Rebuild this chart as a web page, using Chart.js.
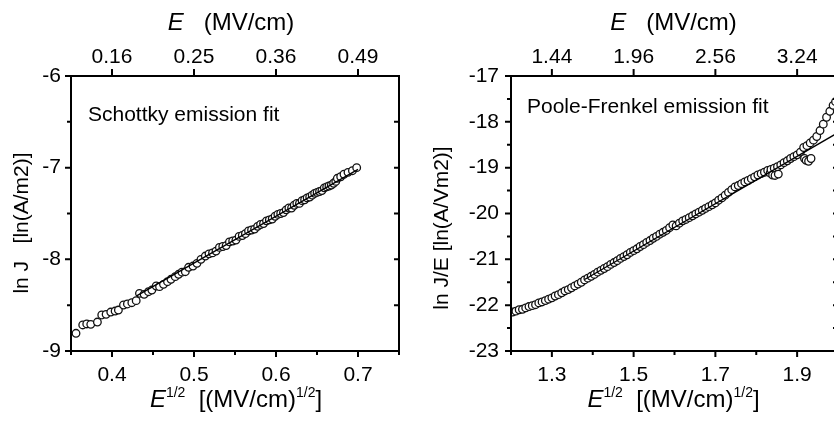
<!DOCTYPE html>
<html><head><meta charset="utf-8">
<script src="https://cdn.jsdelivr.net/npm/chart.js@4/dist/chart.umd.min.js"></script>
<style>
html,body{margin:0;padding:0;background:#fff;overflow:hidden;width:834px;height:425px;}
#c1{position:absolute;left:0;top:0;}
#c2{position:absolute;left:420px;top:0;}
</style></head><body>
<canvas id="c1" width="420" height="425"></canvas>
<canvas id="c2" width="430" height="425"></canvas>
<script>
// ---------- data: Schottky panel ----------
const leftX = [0.3561,0.3643,0.3692,0.3741,0.3822,0.3875,0.3928,0.3985,0.4038,0.4078,0.4140,0.4188,0.4242,0.4295,0.4335,0.4392,0.4445,0.4486,0.4539,0.4580,0.4628,0.4677,0.4719,0.4771,0.4812,0.4853,0.4894,0.4934,0.4988,0.5036,0.5085,0.5138,
0.5183,0.5226,0.5268,0.5310,0.5351,0.5392,0.5432,0.5472,0.5511,0.5550,0.5589,0.5627,0.5665,0.5702,0.5739,0.5776,0.5812,0.5848,0.5884,0.5919,0.5954,0.5989,0.6023,0.6057,0.6091,0.6124,0.6157,0.6190,0.6222,0.6254,0.6286,0.6318,0.6349,0.6380,0.6411,0.6441,0.6471,0.6501,0.6531,0.6560,0.6589,0.6618,0.6646,0.6674,0.6702,0.6729,
0.6748,0.6789,0.6829,0.6878,0.6932,0.6984];
const leftY = [-8.807,-8.716,-8.705,-8.709,-8.684,-8.607,-8.600,-8.575,-8.564,-8.553,-8.498,-8.487,-8.473,-8.451,-8.371,-8.382,-8.353,-8.335,-8.291,-8.298,-8.273,-8.244,-8.218,-8.189,-8.163,-8.140,-8.135,-8.087,-8.073,-8.044,-8.000,-7.964,
-7.94,-7.93,-7.91,-7.87,-7.86,-7.85,-7.81,-7.80,-7.79,-7.75,-7.74,-7.72,-7.69,-7.68,-7.67,-7.64,-7.62,-7.61,-7.58,-7.57,-7.56,-7.53,-7.51,-7.50,-7.49,-7.46,-7.44,-7.44,-7.41,-7.39,-7.39,-7.36,-7.35,-7.33,-7.32,-7.30,-7.28,-7.27,-7.26,-7.25,-7.22,-7.21,-7.20,-7.19,-7.17,-7.15,
-7.116,-7.099,-7.072,-7.051,-7.033,-7.000];
const leftFitX = [0.43, 0.70];
const leftFitY = [-8.399, -7.019];
const leftXTicks = [0.4, 0.5, 0.6, 0.7];
const leftXLabels = ['0.4', '0.5', '0.6', '0.7'];
const leftXMinor = [0.35, 0.45, 0.55, 0.65, 0.75];
const leftTopLabels = ['0.16', '0.25', '0.36', '0.49'];
const leftYTicks = [-9, -8, -7, -6];
const leftYLabels = ['-9', '-8', '-7', '-6'];
const leftYMinor = [-8.5, -7.5, -6.5];

// ---------- data: Poole-Frenkel panel ----------
const rightX = [1.204,1.212,1.220,1.228,1.236,1.244,1.252,1.260,1.268,1.276,1.284,1.292,1.300,1.308,1.316,1.324,1.332,1.340,1.348,1.356,1.364,1.372,1.380,1.388,1.396,1.404,1.412,1.420,1.428,1.436,1.444,1.452,1.460,1.468,1.476,1.484,1.492,1.500,1.508,1.516,1.524,1.532,1.540,1.548,1.556,1.564,1.572,1.580,1.588,1.596,1.604,1.612,1.620,1.628,1.636,1.644,1.652,1.660,1.668,1.676,1.684,1.692,1.700,1.708,1.716,1.724,1.732,1.740,1.748,1.756,1.764,1.772,1.780,1.788,1.796,1.804,1.812,1.820,1.828,1.834,1.836,1.840,1.844,1.846,1.852,1.854,1.860,1.868,1.876,1.884,1.892,1.900,1.908,1.916,1.918,1.922,1.924,1.928,1.932,1.934,1.940,1.948,1.956,1.964,1.972,1.980,1.988,1.994];
const rightY = [-22.15,-22.13,-22.10,-22.09,-22.06,-22.03,-22.01,-21.99,-21.95,-21.93,-21.90,-21.87,-21.84,-21.80,-21.77,-21.73,-21.69,-21.66,-21.62,-21.58,-21.54,-21.50,-21.45,-21.41,-21.37,-21.33,-21.28,-21.24,-21.20,-21.16,-21.11,-21.07,-21.03,-20.98,-20.94,-20.90,-20.85,-20.81,-20.77,-20.72,-20.68,-20.63,-20.59,-20.54,-20.50,-20.45,-20.41,-20.37,-20.31,-20.25,-20.27,-20.21,-20.16,-20.13,-20.09,-20.05,-20.01,-19.97,-19.93,-19.89,-19.85,-19.81,-19.77,-19.71,-19.66,-19.60,-19.54,-19.48,-19.42,-19.39,-19.35,-19.31,-19.28,-19.24,-19.20,-19.16,-19.13,-19.10,-19.06,-19.12,-19.04,-19.16,-19.01,-19.17,-18.98,-19.14,-18.94,-18.89,-18.85,-18.80,-18.76,-18.72,-18.66,-18.56,-18.80,-18.84,-18.52,-18.86,-18.46,-18.80,-18.40,-18.32,-18.19,-18.05,-17.90,-17.77,-17.64,-17.56];
const rightFitX = [1.38, 2.0];
const rightFitY = [-21.44, -18.236];
const rightXTicks = [1.3, 1.5, 1.7, 1.9];
const rightXLabels = ['1.3', '1.5', '1.7', '1.9'];
const rightXMinor = [1.2, 1.4, 1.6, 1.8, 2.0];
const rightTopLabels = ['1.44', '1.96', '2.56', '3.24'];
const rightYTicks = [-23, -22, -21, -20, -19, -18, -17];
const rightYLabels = ['-23', '-22', '-21', '-20', '-19', '-18', '-17'];
const rightYMinor = [-22.5, -21.5, -20.5, -19.5, -18.5, -17.5];

// ---------- helpers ----------
const FAM = '"Liberation Sans", Arial, Helvetica, sans-serif';
function pts(xs, ys) { return xs.map((x, i) => ({x: x, y: ys[i]})); }

function fontFor(p, size) {
  return (p.italic ? 'italic ' : '') + (p.sup ? Math.round(size * 0.6) : size) + 'px ' + FAM;
}
function drawRich(ctx, parts, cx, baseline, size) {
  let total = 0; const ws = [];
  parts.forEach(p => { ctx.font = fontFor(p, size); const w = ctx.measureText(p.t).width; ws.push(w); total += w; });
  let x = cx - total / 2;
  ctx.textAlign = 'left'; ctx.textBaseline = 'alphabetic';
  parts.forEach((p, i) => { ctx.font = fontFor(p, size); ctx.fillText(p.t, x, baseline - (p.sup ? size * 0.42 : 0)); x += ws[i]; });
}

const framePlugin = {
  id: 'frame',
  afterDraw(chart, args, o) {
    const ctx = chart.ctx, a = chart.chartArea;
    const xs = chart.scales.x, ys = chart.scales.y;
    ctx.save();
    ctx.strokeStyle = '#000'; ctx.fillStyle = '#000';
    ctx.lineWidth = 2;
    ctx.strokeRect(a.left, a.top, a.right - a.left, a.bottom - a.top);
    ctx.beginPath();
    o.xMajor.forEach(v => { const p = xs.getPixelForValue(v); ctx.moveTo(p, a.bottom); ctx.lineTo(p, a.bottom + 6); ctx.moveTo(p, a.top); ctx.lineTo(p, a.top - 7); });
    o.xMinor.forEach(v => { const p = xs.getPixelForValue(v); ctx.moveTo(p, a.bottom); ctx.lineTo(p, a.bottom + 4); });
    o.yMajor.forEach(v => { const p = ys.getPixelForValue(v); ctx.moveTo(a.left, p); ctx.lineTo(a.left - 6, p); });
    o.yMinor.forEach(v => { const p = ys.getPixelForValue(v); ctx.moveTo(a.left, p); ctx.lineTo(a.left - 4, p); });
    o.yMajor.concat(o.yMinor).forEach(v => { const p = ys.getPixelForValue(v); ctx.moveTo(a.right, p); ctx.lineTo(a.right - 5, p); });
    ctx.stroke();
    // axis titles
    const cx = (a.left + a.right) / 2;
    drawRich(ctx, [{t: 'E', italic: true}, {t: '   (MV/cm)'}], cx + o.topDx, 30, 24);
    drawRich(ctx, [{t: 'E', italic: true}, {t: '1/2', sup: true}, {t: '  [(MV/cm)'}, {t: '1/2', sup: true}, {t: ']'}], cx + o.botDx, 407, 24);
    ctx.save();
    ctx.translate(o.yTitleX, o.yTitleY); ctx.rotate(-Math.PI / 2);
    ctx.font = '21px ' + FAM; ctx.textAlign = 'center'; ctx.textBaseline = 'middle';
    ctx.fillText(o.yTitle, 0, 0);
    ctx.restore();
    ctx.font = '21px ' + FAM; ctx.textAlign = 'left'; ctx.textBaseline = 'alphabetic';
    ctx.fillText(o.note, a.left + o.noteDx, a.top + o.noteDy);
    ctx.restore();
  }
};

function makeChart(id, cfg) {
  const tickFont = {family: FAM, size: 21};
  return new Chart(document.getElementById(id), {
    data: {
      datasets: [
        {type: 'line', data: pts(cfg.fitX, cfg.fitY), borderColor: '#000', borderWidth: 1.3, pointRadius: 0, fill: false, tension: 0},
        {type: 'scatter', data: pts(cfg.dx, cfg.dy), pointStyle: 'circle', pointRadius: 3.8, borderWidth: 1.3, borderColor: '#111', backgroundColor: '#fff'}
      ]
    },
    options: {
      responsive: false, animation: false, devicePixelRatio: 1,
      layout: {padding: {left: 0, top: 0, bottom: 0, right: cfg.padRight}},
      plugins: {legend: {display: false}, tooltip: {enabled: false}, frame: cfg.frame},
      scales: {
        x: {type: 'linear', position: 'bottom', min: cfg.xMin, max: cfg.xMax,
            grid: {display: false, drawTicks: false}, border: {display: false},
            afterBuildTicks: s => { s.ticks = cfg.xTicks.map(v => ({value: v})); },
            afterFit: s => { s.height = 74; },
            ticks: {font: tickFont, color: '#000', padding: 12, maxRotation: 0, autoSkip: false, callback: (v, i) => cfg.xLabels[i]}},
        x2: {type: 'linear', axis: 'x', position: 'top', min: cfg.xMin, max: cfg.xMax,
            grid: {display: false, drawTicks: false}, border: {display: false},
            afterBuildTicks: s => { s.ticks = cfg.xTicks.map(v => ({value: v})); },
            afterFit: s => { s.height = 76; },
            ticks: {font: tickFont, color: '#000', padding: 6, maxRotation: 0, autoSkip: false, callback: (v, i) => cfg.topLabels[i]}},
        y: {type: 'linear', position: 'left', min: cfg.yMin, max: cfg.yMax,
            grid: {display: false, drawTicks: false}, border: {display: false},
            afterBuildTicks: s => { s.ticks = cfg.yTicks.map(v => ({value: v})); },
            afterFit: s => { s.width = cfg.yWidth; },
            ticks: {font: tickFont, color: '#000', padding: cfg.yPad, autoSkip: false, callback: (v, i) => cfg.yLabels[i]}}
      }
    },
    plugins: [framePlugin]
  });
}

makeChart('c1', {
  dx: leftX, dy: leftY, fitX: leftFitX, fitY: leftFitY,
  xMin: 0.35, xMax: 0.75, yMin: -9, yMax: -6,
  xTicks: leftXTicks, xLabels: leftXLabels, topLabels: leftTopLabels,
  yTicks: leftYTicks, yLabels: leftYLabels, yWidth: 71, yPad: 10, padRight: 21,
  frame: {xMajor: leftXTicks, xMinor: leftXMinor, yMajor: leftYTicks, yMinor: leftYMinor,
          topDx: -4, botDx: 1, yTitle: 'ln J   [ln(A/m2)]', yTitleX: 22, yTitleY: 223,
          note: 'Schottky emission fit', noteDx: 17, noteDy: 45}
});
makeChart('c2', {
  dx: rightX, dy: rightY, fitX: rightFitX, fitY: rightFitY,
  xMin: 1.2, xMax: 2.0, yMin: -23, yMax: -17,
  xTicks: rightXTicks, xLabels: rightXLabels, topLabels: rightTopLabels,
  yTicks: rightYTicks, yLabels: rightYLabels, yWidth: 91, yPad: 12, padRight: 12,
  frame: {xMajor: rightXTicks, xMinor: rightXMinor, yMajor: rightYTicks, yMinor: rightYMinor,
          topDx: -1, botDx: -1, yTitle: 'ln J/E [ln(A/Vm2)]', yTitleX: 22, yTitleY: 228,
          note: 'Poole-Frenkel emission fit', noteDx: 16, noteDy: 37}
});
</script></body></html>
